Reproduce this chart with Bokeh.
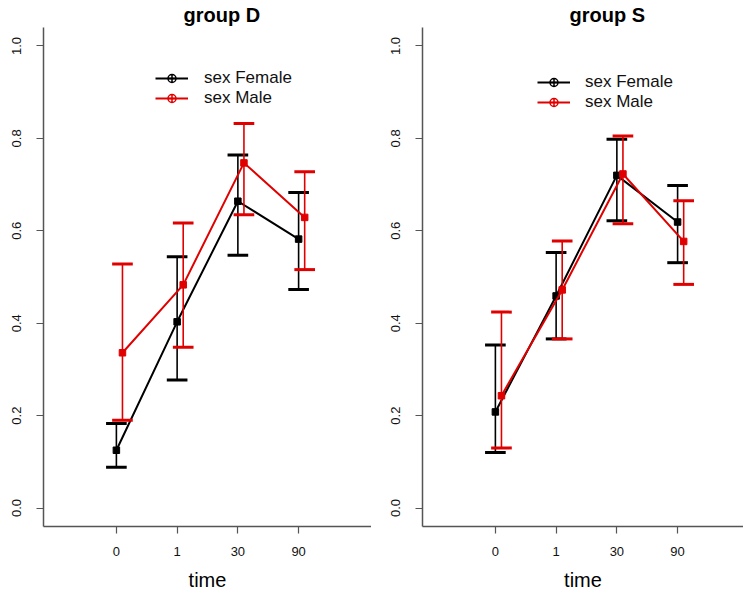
from bokeh.plotting import figure
from bokeh.layouts import row
from bokeh.models import FixedTicker, Range1d, Legend, LegendItem, PrintfTickFormatter
from bokeh.embed import file_html
from bokeh.resources import INLINE

# ---- data ----
times = ["0", "1", "30", "90"]
groups = ["group D", "group S"]
series = ["sex Female", "sex Male"]
y_ticks = [0.0, 0.2, 0.4, 0.6, 0.8, 1.0]

d_female_mean = [0.125, 0.403, 0.664, 0.582]
d_female_lo = [0.088, 0.277, 0.547, 0.473]
d_female_hi = [0.183, 0.544, 0.764, 0.683]
d_male_mean = [0.336, 0.483, 0.747, 0.629]
d_male_lo = [0.190, 0.348, 0.635, 0.516]
d_male_hi = [0.528, 0.617, 0.832, 0.728]

s_female_mean = [0.208, 0.459, 0.720, 0.619]
s_female_lo = [0.120, 0.366, 0.622, 0.531]
s_female_hi = [0.353, 0.553, 0.798, 0.698]
s_male_mean = [0.243, 0.472, 0.723, 0.577]
s_male_lo = [0.130, 0.366, 0.615, 0.484]
s_male_hi = [0.424, 0.578, 0.805, 0.665]

# ---- style ----
FONT = "Liberation Sans"
BLACK = "#000000"
RED = "#E00000"
AXIS = "#555555"
DODGE = 0.1
CAP = 0.17
NAN = float("nan")


def draw_series(p, xs, mean, lo, hi, color):
    p.segment(x0=xs, y0=lo, x1=xs, y1=hi, line_color=color, line_width=1.6)
    p.segment(x0=[x - CAP for x in xs], y0=lo, x1=[x + CAP for x in xs], y1=lo,
              line_color=color, line_width=3)
    p.segment(x0=[x - CAP for x in xs], y0=hi, x1=[x + CAP for x in xs], y1=hi,
              line_color=color, line_width=3)
    p.line(xs, mean, line_color=color, line_width=2)
    p.scatter(xs, mean, marker="square", size=6.5, fill_color=color, line_color=color)


def panel(title, fm, flo, fhi, mm, mlo, mhi, frame_w, border_left, x_end,
          legend_loc, legend_standoff, title_offset):
    p = figure(frame_width=frame_w, frame_height=499,
               output_backend="svg", toolbar_location=None,
               x_range=Range1d(-0.2, x_end), y_range=Range1d(-0.04, 1.04),
               min_border_left=border_left, min_border_right=0,
               min_border_top=27, min_border_bottom=67)
    p.outline_line_color = None
    p.xgrid.visible = False
    p.ygrid.visible = False
    p.background_fill_color = "white"

    p.title.text = title
    p.title.text_font = FONT
    p.title.text_font_size = "20px"
    p.title.text_font_style = "bold"
    p.title.text_color = "black"
    p.title.align = "left"
    p.title.offset = title_offset
    p.title.standoff = 3

    pos = [i + 1 for i in range(len(times))]
    p.xaxis.ticker = FixedTicker(ticks=pos)
    p.xaxis.major_label_overrides = {pos[i]: times[i] for i in range(len(times))}
    p.xaxis.minor_tick_line_color = None
    p.xaxis.axis_label = "time"
    p.xaxis.axis_label_text_font = FONT
    p.xaxis.axis_label_text_font_size = "20px"
    p.xaxis.axis_label_text_font_style = "normal"
    p.xaxis.axis_label_text_color = "black"
    p.xaxis.axis_label_standoff = 10
    p.xaxis.major_label_standoff = 13

    p.yaxis.ticker = FixedTicker(ticks=y_ticks)
    p.yaxis.formatter = PrintfTickFormatter(format="%.1f")
    p.yaxis.minor_tick_line_color = None
    p.yaxis.major_label_orientation = "vertical"
    p.yaxis.major_label_standoff = 15

    for ax in (p.xaxis, p.yaxis):
        ax.axis_line_color = AXIS
        ax.axis_line_width = 1.5
        ax.major_tick_line_color = AXIS
        ax.major_tick_line_width = 1.2
        ax.major_tick_out = 7
        ax.major_tick_in = 0
        ax.major_label_text_font = FONT
        ax.major_label_text_font_size = "13px"
        ax.major_label_text_color = "#111111"

    draw_series(p, pos, fm, flo, fhi, BLACK)
    draw_series(p, [x + DODGE for x in pos], mm, mlo, mhi, RED)

    # legend keys (proxy renderers that draw nothing in the plot area)
    items = []
    for name, color in zip(series, [BLACK, RED]):
        rl = p.line([NAN], [NAN], line_color=color, line_width=2)
        rm = p.scatter([NAN], [NAN], marker="circle_cross", size=9, line_color=color,
                       fill_alpha=0, line_width=1.5)
        items.append(LegendItem(label=name, renderers=[rl, rm]))
    legend = Legend(items=items, location=legend_loc, glyph_width=33, glyph_height=20,
                    label_standoff=legend_standoff, spacing=0, padding=0, margin=0,
                    border_line_color=None, background_fill_alpha=0,
                    label_text_font=FONT, label_text_font_size="17px",
                    label_text_color="#111111", label_height=20)
    p.add_layout(legend)
    return p


p1 = panel(groups[0], d_female_mean, d_female_lo, d_female_hi,
           d_male_mean, d_male_lo, d_male_hi,
           frame_w=328, border_left=43, x_end=5.2,
           legend_loc=(112, 418), legend_standoff=16, title_offset=140)
p2 = panel(groups[1], s_female_mean, s_female_lo, s_female_hi,
           s_male_mean, s_male_lo, s_male_hi,
           frame_w=321, border_left=51, x_end=5.085,
           legend_loc=(115, 414), legend_standoff=15, title_offset=147)

layout = row(p1, p2, spacing=0)
open("out.html", "w").write(file_html(layout, INLINE))
